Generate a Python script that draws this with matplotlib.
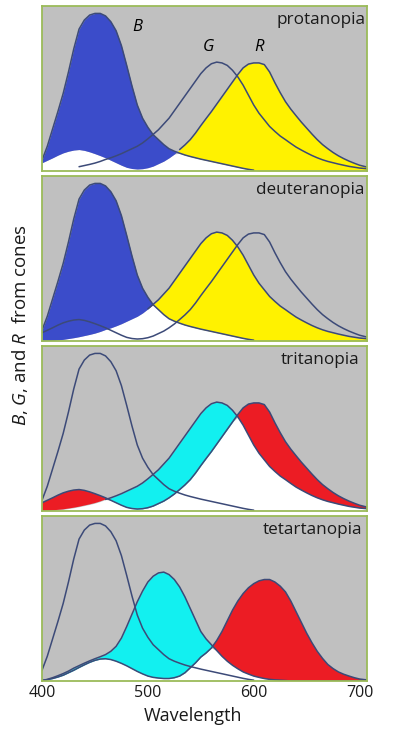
import numpy as np
import matplotlib
matplotlib.use("Agg")
import matplotlib.pyplot as plt

plt.rcParams['font.family'] = ['Open Sans', 'DejaVu Sans']
plt.rcParams['mathtext.fontset'] = 'custom'
plt.rcParams['mathtext.it'] = 'Open Sans:italic'
plt.rcParams['mathtext.rm'] = 'Open Sans'

nan = np.nan
wavelength = list(range(400, 711, 5))

# cone responses (fraction of panel height)
B = [0.065, 0.15, 0.255, 0.36, 0.47, 0.60, 0.74, 0.86, 0.915, 0.945,
     0.955, 0.955, 0.94, 0.905, 0.85, 0.76, 0.64, 0.515, 0.40, 0.32,
     0.265, 0.22, 0.19, 0.16, 0.135, 0.12, 0.108, 0.097, 0.088, 0.08,
     0.072, 0.065, 0.058, 0.051, 0.044, 0.037, 0.03, 0.023, 0.016, 0.01,
     0.005, nan, nan, nan, nan, nan, nan, nan, nan, nan,
     nan, nan, nan, nan, nan, nan, nan, nan, nan, nan,
     nan, nan, nan]
G = [0.0, 0.002, 0.004, 0.007, 0.01, 0.015, 0.02, 0.026, 0.033, 0.04,
     0.048, 0.058, 0.07, 0.08, 0.092, 0.105, 0.12, 0.135, 0.15, 0.17,
     0.195, 0.222, 0.25, 0.285, 0.32, 0.365, 0.41, 0.455, 0.50, 0.545,
     0.59, 0.625, 0.65, 0.66, 0.655, 0.64, 0.61, 0.57, 0.52, 0.46,
     0.40, 0.35, 0.31, 0.27, 0.24, 0.212, 0.19, 0.167, 0.145, 0.127,
     0.11, 0.094, 0.08, 0.068, 0.058, 0.05, 0.042, 0.035, 0.028, 0.023,
     0.018, 0.015, 0.012]
R = [0.05, 0.065, 0.08, 0.096, 0.11, 0.12, 0.127, 0.13, 0.125, 0.116,
     0.105, 0.093, 0.08, 0.065, 0.05, 0.035, 0.022, 0.015, 0.012, 0.014,
     0.02, 0.03, 0.045, 0.06, 0.08, 0.103, 0.13, 0.158, 0.19, 0.23,
     0.275, 0.318, 0.36, 0.405, 0.45, 0.495, 0.54, 0.585, 0.625, 0.648,
     0.655, 0.655, 0.645, 0.60, 0.535, 0.475, 0.42, 0.375, 0.335, 0.296,
     0.26, 0.224, 0.19, 0.16, 0.135, 0.112, 0.092, 0.075, 0.06, 0.047,
     0.035, 0.027, 0.02]
# tetartanopia (shifted G and R responses)
G_tet = [0.003, 0.01, 0.02, 0.032, 0.045, 0.06, 0.078, 0.093, 0.108, 0.122,
         0.135, 0.147, 0.16, 0.18, 0.21, 0.26, 0.33, 0.405, 0.48, 0.545,
         0.60, 0.635, 0.655, 0.66, 0.645, 0.615, 0.57, 0.51, 0.44, 0.37,
         0.30, 0.255, 0.22, 0.185, 0.15, 0.12, 0.095, 0.074, 0.055, 0.042,
         0.03, 0.022, 0.015, 0.01, 0.007, 0.005, 0.003, 0.0, 0.0, 0.0,
         0.0, 0.0, 0.0, 0.0, 0.0, 0.0, 0.0, 0.0, 0.0, 0.0,
         0.0, 0.0, 0.0]
R_tet = [0.003, 0.008, 0.015, 0.024, 0.035, 0.05, 0.065, 0.082, 0.098, 0.113,
         0.125, 0.133, 0.135, 0.13, 0.12, 0.107, 0.092, 0.075, 0.058, 0.043,
         0.03, 0.022, 0.018, 0.015, 0.015, 0.02, 0.03, 0.05, 0.08, 0.11,
         0.145, 0.17, 0.20, 0.245, 0.30, 0.365, 0.43, 0.485, 0.53, 0.565,
         0.59, 0.607, 0.615, 0.615, 0.60, 0.575, 0.54, 0.485, 0.42, 0.355,
         0.29, 0.232, 0.18, 0.137, 0.10, 0.075, 0.055, 0.041, 0.03, 0.02,
         0.012, 0.008, 0.006]

panel_names = ['protanopia', 'deuteranopia', 'tritanopia', 'tetartanopia']
tick_values = [400, 500, 600, 700]

BLUE = '#3b4cca'
YELLOW = '#fff200'
CYAN = '#12f0f0'
RED = '#ec1c24'
BG = '#c0c0c0'
EDGE = '#9bbb59'
LINE = '#3c4a78'

x = np.array(wavelength, dtype=float)
Bv = np.array(B, dtype=float)
Bf = np.nan_to_num(Bv)
Gv = np.array(G); Rv = np.array(R)
Gt = np.array(G_tet); Rt = np.array(R_tet)

panels = [
    dict(a=Bf, b=Rv, ca=BLUE, cb=YELLOW,
         lines=[(Bv, 400), (Gv, 435), (Rv, 530)]),
    dict(a=Bf, b=Gv, ca=BLUE, cb=YELLOW,
         lines=[(Bv, 400), (Gv, 500), (Rv, 400)]),
    dict(a=Gv, b=Rv, ca=CYAN, cb=RED,
         lines=[(Bv, 400), (Gv, 460), (Rv, 400)]),
    dict(a=Gt, b=Rt, ca=CYAN, cb=RED,
         lines=[(Bv, 400), (Gt, 400), (Rt, 400)]),
]

fig = plt.figure(figsize=(3.98, 7.31), dpi=100)
W, H = 398, 731
left_px, width_px = 42, 325
tops = [6, 176, 346, 516]
ph = 165
name_right = [0.995, 0.992, 0.975, 0.985]

axes = []
for i, p in enumerate(panels):
    top = tops[i]
    ax = fig.add_axes([left_px / W, 1 - (top + ph) / H, width_px / W, ph / H])
    ax.set_facecolor(BG)
    a, b = p['a'], p['b']
    ax.fill_between(x, 0, np.minimum(a, b), color='white', lw=0)
    ax.fill_between(x, b, a, where=a >= b, interpolate=True, color=p['ca'], lw=0)
    ax.fill_between(x, a, b, where=b >= a, interpolate=True, color=p['cb'], lw=0)
    for y, start in p['lines']:
        yy = np.where(x >= start, y, np.nan)
        ax.plot(x, yy, color=LINE, lw=1.1, solid_capstyle='round',
                solid_joinstyle='round')
    ax.set_xlim(400, 707)
    ax.set_ylim(0, 1)
    ax.set_yticks([])
    for s in ax.spines.values():
        s.set_color(EDGE)
        s.set_linewidth(1.3)
    ax.text(name_right[i], 0.965, panel_names[i], transform=ax.transAxes,
            ha='right', va='top', fontsize=12.3, color='#1a1a1a')
    if i < 3:
        ax.set_xticks([])
    else:
        ax.set_xticks(tick_values)
        ax.set_xticklabels([str(t) for t in tick_values])
        ax.tick_params(axis='x', length=0, pad=3, labelsize=11.5, colors='#1a1a1a')
    axes.append(ax)

ax0 = axes[0]
ax0.text(491, 0.873, r'$B$', ha='center', va='center', fontsize=12)
ax0.text(557, 0.75, r'$G$', ha='center', va='center', fontsize=12)
ax0.text(606, 0.75, r'$R$', ha='center', va='center', fontsize=12)

fig.text(193 / W, 1 - 716 / H, 'Wavelength', ha='center', va='center',
         fontsize=13, color='#1a1a1a')
fig.text(20 / W, 1 - 325 / H, r'$B$, $G$, and $R$  from cones', rotation=90,
         ha='center', va='center', fontsize=13.5, color='#1a1a1a')

fig.savefig('out.png', dpi=100, facecolor='white')
